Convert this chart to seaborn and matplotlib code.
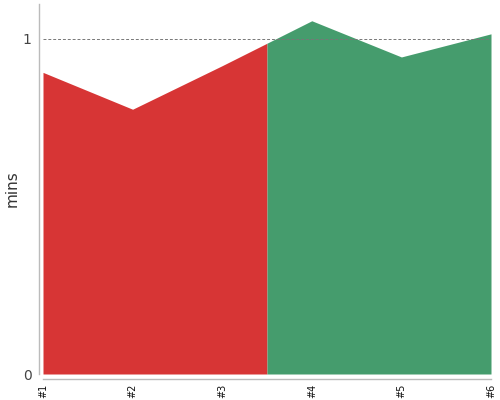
import numpy as np
import matplotlib
matplotlib.use('Agg')
import matplotlib.pyplot as plt
import seaborn as sns

# data
labels = ['#1', '#2', '#3', '#4', '#5', '#6']
mins = [0.90, 0.79, 0.92, 1.054, 0.946, 1.015]
split_at = 2.5  # colour changes halfway between #3 and #4
target = 1.0

sns.set_style('white')
plt.rcParams['font.family'] = ['DejaVu Sans']

x = np.arange(len(labels), dtype=float)
y = np.array(mins, dtype=float)
y_split = np.interp(split_at, x, y)

left_x = np.append(x[x < split_at], split_at)
left_y = np.append(y[x < split_at], y_split)
right_x = np.insert(x[x > split_at], 0, split_at)
right_y = np.insert(y[x > split_at], 0, y_split)

fig = plt.figure(figsize=(5, 4), dpi=100)
ax = fig.add_axes([0.086, 0.065, 0.896, 0.925])

ax.fill_between(left_x, 0, left_y, color='#d73535', linewidth=0)
ax.fill_between(right_x, 0, right_y, color='#459c6d', linewidth=0)
ax.axhline(target, color='#777777', linestyle=(0, (3, 2)), linewidth=0.7)

ax.set_xlim(0, len(labels) - 1)
ax.set_ylim(0, 1.104)
ax.set_xticks(x)
ax.set_xticklabels(labels)
ax.set_yticks([0, 1])
ax.set_yticklabels(['0', '1'])
ax.set_ylabel('mins', fontsize=11, color='#333333')
ax.yaxis.set_label_coords(-0.052, 0.5)

sns.despine(ax=ax)
ax.spines['left'].set_position(('outward', 2.9))
ax.spines['bottom'].set_position(('outward', 3.6))
for s in ['left', 'bottom']:
    ax.spines[s].set_color('#bbbbbb')
    ax.spines[s].set_linewidth(1)

# label styling goes through tick_params so it is not reset afterwards
ax.tick_params(axis='both', length=2.2, color='#bbbbbb', width=1)
ax.tick_params(axis='x', labelrotation=90, pad=1.2, labelsize=7, labelcolor='#111111')
ax.tick_params(axis='y', pad=3, labelsize=10, labelcolor='#444444')

fig.savefig('out.png', dpi=100)
